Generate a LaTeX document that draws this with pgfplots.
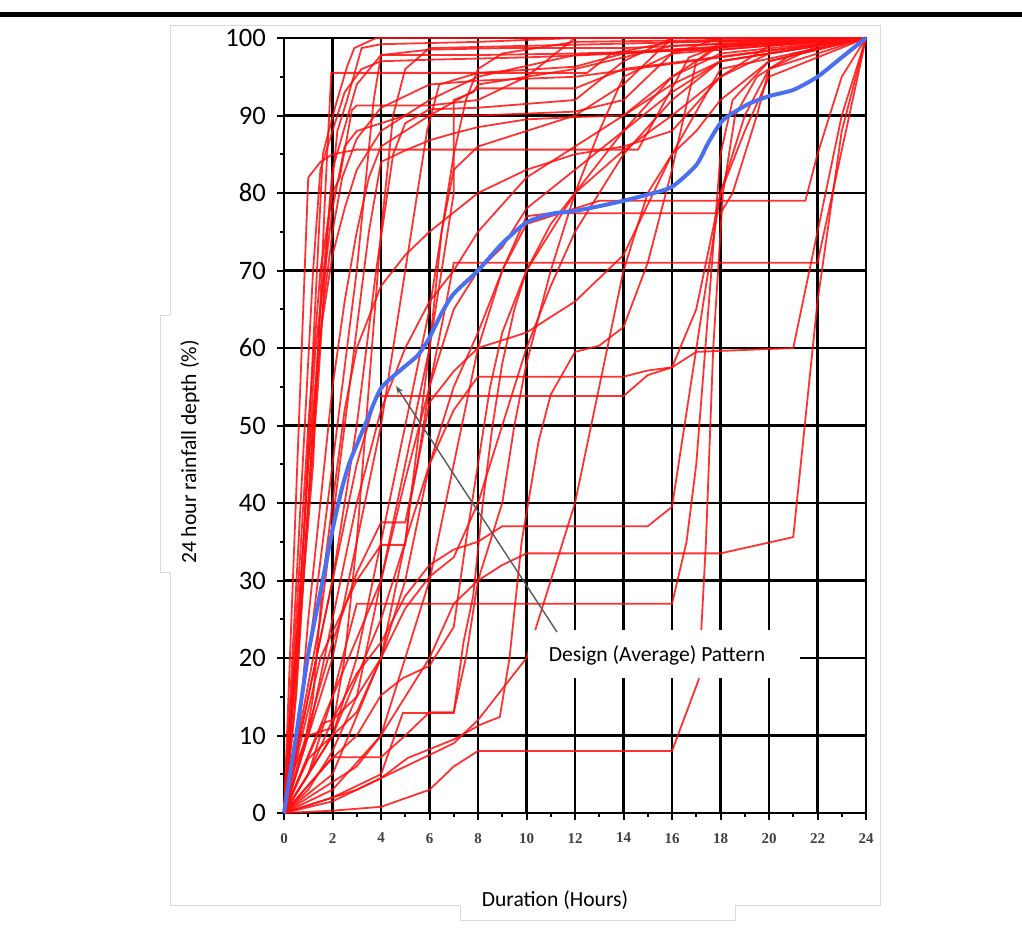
\documentclass[border=0pt]{standalone}
\usepackage{pgfplots}
\pgfplotsset{compat=1.18}
\usepackage{fontspec}
\setmainfont{Carlito}
\newfontfamily\tnr{Liberation Serif}
\usetikzlibrary{arrows.meta}
\definecolor{bluec}{RGB}{72,112,240}
\definecolor{redc}{RGB}{255,15,15}
\pgfplotsset{rl/.style={redc, line width=0.9pt, opacity=0.85, mark=none}}
\begin{document}
\begin{tikzpicture}
\fill[white] (0,0) rectangle (511pt,-464pt);
\useasboundingbox (0,0) rectangle (511pt,-464pt);
\begin{scope}[x=0.5pt,y=-0.5pt]
\fill[black] (0,12) rectangle (1022,16.5);
\draw[gray!30, line width=0.5pt] (170,315) -- (170,25) -- (880,25) -- (880,905) -- (735,905) -- (735,920) -- (460,920) -- (460,905) -- (170,905) -- (170,572) -- (160,572) -- (160,315) -- (170,315);
\end{scope}
\begin{axis}[at={(142pt,-406.5pt)}, anchor=south west, scale only axis,
  width=291pt, height=387.5pt,
  xmin=0, xmax=24, ymin=0, ymax=100,
  axis line style={black, line width=1.2pt},
  grid=major, major grid style={black, line width=1.2pt},
  xtick={0,2,...,24}, ytick={0,10,...,100},
  minor xtick={1,3,...,23}, minor ytick={5,15,...,95},
  tick align=outside, tick pos=left,
  major tick length=3.5pt, minor tick length=2pt,
  every tick/.style={black, line width=1pt},
  clip=false,
  /pgf/number format/assume math mode=true,
  yticklabel style={font=\fontsize{13.3}{15}\selectfont, xshift=-2pt},
  xticklabel style={font=\tnr\bfseries\fontsize{7.5}{9}\selectfont, text=black!75, yshift=-3pt},
]
% early storms
\addplot[rl] coordinates {(0,0)(1,82)(1.5,84)(2,85)(3,85.6)(14.6,85.6)(16.7,97.5)(18,99)(24,100)};
\addplot[rl] coordinates {(0,0)(1.2,45)(1.7,80)(1.95,95.5)(12.5,95.5)(13.5,98)(16,99.5)(24,100)};
\addplot[rl] coordinates {(0,0)(0.8,35)(1.6,85)(2.1,91)(2.6,96.3)(2.9,98.7)(3.8,100)(24,100)};
\addplot[rl] coordinates {(0,0)(1,50)(1.5,70)(2,80)(2.3,82)(2.8,90.7)(3,91.3)(6,91.3)(8,92)(10,95)(11,97.5)(12,100)(24,100)};
\addplot[rl] coordinates {(0,0)(0.7,30)(1.3,60)(2,78)(2.5,86)(3,88)(4,89)(5,90)(8,90)(12,90.5)(14,92)(16,98)(18,100)(24,100)};
\addplot[rl] coordinates {(0,0)(1.4,55)(1.8,75)(2.2,88)(2.6,92)(3.2,98.7)(4,99.2)(8,99.5)(12,100)(24,100)};
\addplot[rl] coordinates {(0,0)(0.5,15)(1,40)(1.5,65)(2,83)(3,94)(4,97.8)(8,97.8)(12,98)(18,98.5)(24,100)};
\addplot[rl] coordinates {(0,0)(1.2,70)(1.5,83)(2,88)(2.5,93)(3.2,96)(4,97)(6,97.2)(10,97.5)(14,98)(24,100)};
\addplot[rl] coordinates {(0,0)(0.5,20)(1,45)(1.5,62)(2,72)(2.5,78)(3,83)(4,88)(6,92)(8,95)(12,97.8)(24,100)};
\addplot[rl] coordinates {(0,0)(0.6,10)(1,25)(1.5,40)(2,55)(2.5,66)(3,75)(3.5,82)(4,86)(6,90)(8,93.5)(12,93.5)(14,96)(24,100)};
\addplot[rl] coordinates {(0,0)(0.8,8)(1.2,15)(1.6,30)(2,40)(2.5,52)(3,60)(4,68)(5,72)(6,75)(8,80)(10,83)(12,85)(14,86)(16,88)(18,95)(20,99)(24,100)};
\addplot[rl] coordinates {(0,0)(0.3,5)(1,10)(2,11)(2.5,20)(3,35)(3.5,55)(4,75)(4.5,90)(5,96)(6,98.7)(24,100)};
\addplot[rl] coordinates {(0,0)(1,7)(2,10)(3,13)(4,20)(5,35)(6,60)(6.5,75)(7,85)(7.5,92)(8,96)(9,98)(12,99.5)(24,100)};
\addplot[rl] coordinates {(0,0)(0.4,12)(0.8,30)(1.2,50)(1.6,65)(2,75)(2.4,82)(3,87)(4,91)(6,94)(8,94.5)(12,95)(24,100)};
% middle storms
\addplot[rl] coordinates {(0,0)(1,20)(2,45)(3,70)(3.7,92)(4,97.8)(6,98.5)(9,98.7)(14,98.7)(24,100)};
\addplot[rl] coordinates {(0,0)(1.5,25)(2.5,50)(3.5,75)(4,84)(5,85.5)(6,86.8)(7,87.7)(8,88.5)(10,89.5)(12,89.8)(14,90)(16,94)(18,97)(24,100)};
\addplot[rl] coordinates {(0,0)(2,30)(3,50)(3.8,70)(4.5,85)(5,89)(6,90.8)(8,91)(12,92)(14,97)(16,100)(24,100)};
\addplot[rl] coordinates {(0,0)(2,20)(3,35)(4,50)(5,70)(5.5,80)(5.9,88)(6.4,94)(8,95.5)(12,96.3)(14,98)(24,100)};
\addplot[rl] coordinates {(0,0)(2,15)(4,30)(5,45)(6,60)(7,80)(7,92)(7.8,93)(8,94)(10,95)(12,96)(16,99)(24,100)};
\addplot[rl] coordinates {(0,0)(2,10)(3,20)(4,35)(5,50)(6,65)(6.5,75)(7,83)(8,86)(10,88)(12,90)(14,94)(16,100)(24,100)};
\addplot[rl] coordinates {(0,0)(1,3)(2,8)(3,15)(4,30)(5,43)(6,55)(6.7,66)(7,71)(22,71)(24,100)};
\addplot[rl] coordinates {(0,0)(2,5)(4,20)(5,30)(6,45)(7,55)(8,62)(9,70)(10,77)(11,77.4)(18,77.4)(18.5,80)(19.5,90)(20,96)(24,100)};
\addplot[rl] coordinates {(0,0)(3,6)(4,10)(6,30)(7,45)(8,60)(9,70)(10,76)(12,78)(13,79)(21.5,79)(22,85)(23,95)(24,100)};
\addplot[rl] coordinates {(0,0)(1,10)(2,25)(3,40)(4,52)(5,60)(6,66)(7,70)(8,75)(10,82)(12,86)(14,90)(16,95)(18,98)(24,100)};
\addplot[rl] coordinates {(0,0)(1,15)(2,30)(3,45)(3.8,53.8)(14,53.8)(15,56.5)(16,57.5)(17,65)(18,80)(19,90)(20,96)(22,99)(24,100)};
\addplot[rl] coordinates {(0,0)(2,10)(4,25)(5,35)(6,45)(7,52)(8,56.3)(14,56.3)(15,57.1)(16,57.5)(17,59.5)(21,60)(22,75)(23,90)(24,100)};
\addplot[rl] coordinates {(0,0)(2,22)(3,31)(4,37.5)(5,37.5)(5.5,45)(6,55)(7,65)(8,70)(9,73)(10,78)(12,83)(14,88)(16,95)(18,99)(24,100)};
\addplot[rl] coordinates {(0,0)(1.5,20)(3,30)(4,34.6)(5,34.6)(5.2,40)(6,53)(7,57)(8,60)(10,62)(12,66)(14,72)(16,85)(18,96)(24,100)};
% late storms
\addplot[rl] coordinates {(0,0)(1,5)(2,12)(3,18)(4,22)(5,28)(6,32)(7,34)(8,35)(9,37)(15,37)(16,39.5)(17.3,66)(18,80)(19,88)(20,95)(24,100)};
\addplot[rl] coordinates {(0,0)(2,3)(4,10)(6,20)(7,27)(8,30)(9,32)(10,33.5)(18,33.5)(21,35.6)(22,66)(23,88)(24,100)};
\addplot[rl] coordinates {(0,0)(1,5)(2,15)(3,27)(16,27)(16.6,35)(17,45)(17.5,65)(18,85)(18.5,92)(20,97)(24,100)};
\addplot[rl] coordinates {(0,0)(2,0.3)(4,0.8)(6,3)(7,6)(8,8)(16,8)(17.1,17.2)(17.4,35)(17.7,60)(18.1,80)(18.6,90)(19.5,95)(21,98)(24,100)};
\addplot[rl] coordinates {(0,0)(2,1.5)(4,4.5)(5.1,7.1)(5.9,8.1)(7,9.5)(8.1,11.4)(8.9,12.4)(9.3,20)(9.8,35)(10.5,48)(11,54)(12,59.5)(13,60.3)(14,62.7)(15,71)(16,83)(17,97)(18,99.5)(24,100)};
\addplot[rl] coordinates {(0,0)(2,7.2)(4,7.2)(5,10)(6,13)(7,13)(7.5,20)(8,30)(9,40)(9.5,50)(10,58)(11,70)(12,80)(13,88)(14,95)(16,98)(24,100)};
\addplot[rl] coordinates {(0,0)(2,2)(4,5)(4.9,12.9)(7,12.9)(7.4,22)(7.8,28)(8.2,40)(8.6,50)(9,58)(9.5,65)(10,70)(11,76)(12,80)(14,85.5)(16,90)(18,95)(20,98)(24,100)};
\addplot[rl] coordinates {(0,0)(3,3)(5,6)(7,9)(8,12)(10,20)(11,30)(12,40)(13,55)(14,70)(15,80)(16,85)(17,88)(18,92)(20,97)(24,100)};
\addplot[rl] coordinates {(0,0)(1.6,11.6)(2,12)(3,15)(4,20)(5,26.4)(6,30.5)(7,33)(8,40)(9,50)(10,60)(11,68)(12,75)(14,85)(16,92)(18,97)(24,100)};
\addplot[rl] coordinates {(0,0)(2,7.1)(3,10)(4,15.2)(4.9,17.4)(6,19)(7,24)(7.5,35)(8,45)(8.5,55)(9,62)(10,70)(12,80)(14,88)(16,93)(18,97)(24,100)};
% design pattern
\addplot[bluec, line width=2pt, smooth, tension=0.4] coordinates {(0,0)(0.5,10)(1,20.5)(1.5,28.5)(2,36.5)(2.4,42)(2.7,45.2)(3,47.5)(3.4,50.5)(4,54.8)(4.9,57.4)(5.5,59)(5.94,61)(6.5,64.5)(7,67)(8,70)(9,73.5)(10,76.2)(11,77.3)(12,77.7)(13,78.3)(14,79)(15,79.8)(16,80.8)(17,83.6)(17.5,86.5)(18.1,89.4)(19.1,91.4)(20,92.5)(21,93.3)(22,95)(23,97.5)(24,100)};
\end{axis}
\begin{scope}[x=0.5pt,y=-0.5pt]
\fill[white] (528,630) rectangle (800,678);
\node[font=\fontsize{10.8}{12}\selectfont] at (657,655) {Design (Average) Pattern};
\draw[black!65, line width=0.7pt, -{Stealth[length=4pt,width=3pt]}] (557,632) -- (396,386);
\node[font=\fontsize{10.8}{12}\selectfont] at (555,900) {Duration (Hours)};
\node[rotate=90, font=\fontsize{10.8}{12}\selectfont] at (190,452) {24 hour rainfall depth (\%)};
\end{scope}
\end{tikzpicture}
\end{document}
